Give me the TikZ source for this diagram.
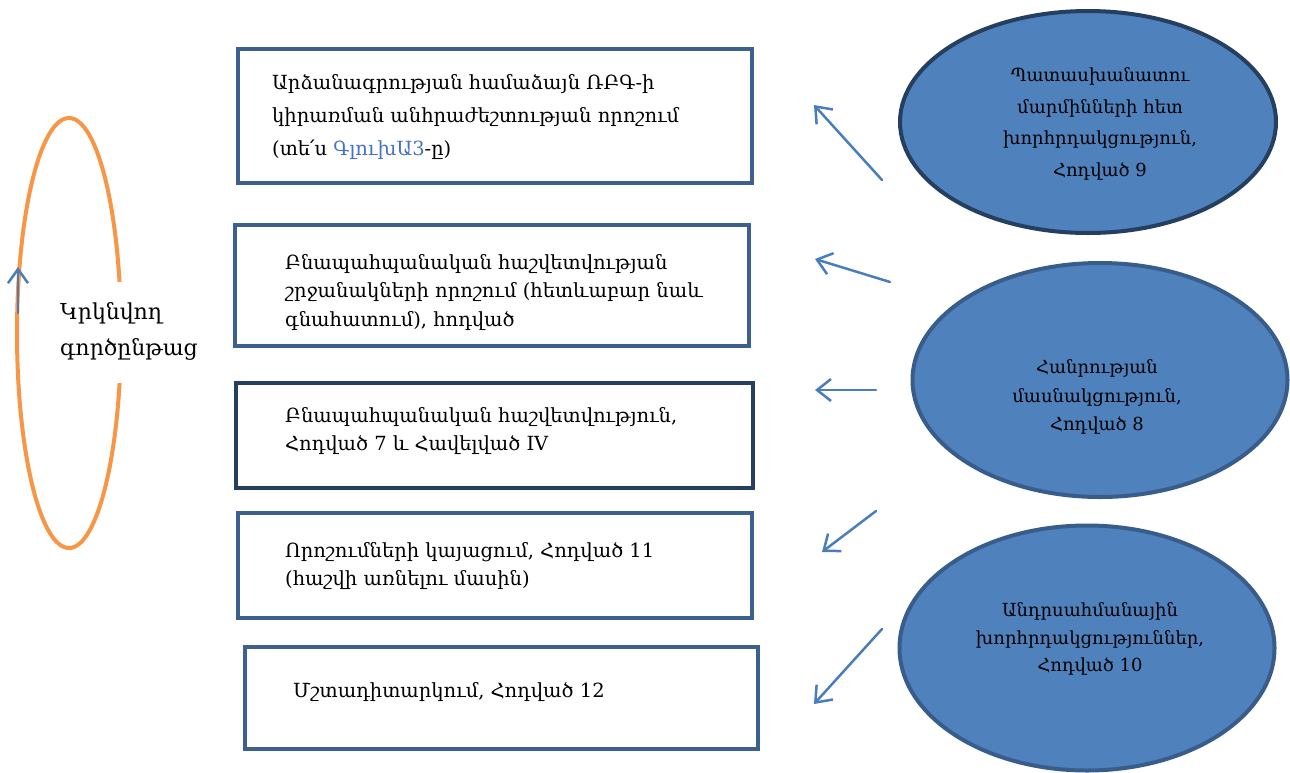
\documentclass[tikz,border=0pt]{standalone}
\usepackage{fontspec}
\setmainfont{DejaVu Serif}
\usetikzlibrary{arrows.meta,shapes.geometric}
\definecolor{boxline}{HTML}{3C6191}
\definecolor{boxdark}{HTML}{243F60}
\definecolor{ovalfill}{HTML}{4F81BD}
\definecolor{ovalline}{HTML}{385D8A}
\definecolor{arrowblue}{HTML}{4A7EBB}
\definecolor{loop}{HTML}{F79646}
\definecolor{linkblue}{HTML}{4472C4}
\tikzset{
  stagebox/.style={draw=boxline, line width=4pt, fill=white, rectangle, inner sep=0pt, anchor=north west},
  stagetext/.style={anchor=west, align=left, inner sep=0pt, font=\fontsize{19.5}{28.5}\selectfont},
  oval/.style={ellipse, draw=ovalline, line width=4pt, fill=ovalfill, inner sep=0pt},
  ovaltext/.style={align=center, inner sep=0pt, font=\fontsize{18}{28.5}\selectfont},
  feed/.style={draw=arrowblue, line width=2.5pt, line cap=round,
    -{Straight Barb[length=14pt, width=22pt, line width=2.5pt]}},
}
\begin{document}
\begin{tikzpicture}[x=1pt, y=-1pt]
\useasboundingbox (0,0) rectangle (1290,772);

% stage boxes
\node[stagebox, minimum width=514pt, minimum height=134pt] (b1) at (236,47) {};
\node[stagebox, minimum width=514pt, minimum height=121pt] (b2) at (233,223) {};
\node[stagebox, draw=boxdark, minimum width=517pt, minimum height=105pt] (b3) at (234,381) {};
\node[stagebox, minimum width=514pt, minimum height=105pt] (b4) at (236,511) {};
\node[stagebox, minimum width=513pt, minimum height=102pt] (b5) at (243,645) {};

\node[stagetext, font=\fontsize{19.5}{33}\selectfont] (t1) at (272,117)
  {Արձանագրության համաձայն ՌԲԳ-ի\\կիրառման անհրաժեշտության որոշում\\(տե՛ս \textcolor{linkblue}{ԳլուխԱ3}-ը)};
\node[stagetext] (t2) at (285,292)
  {Բնապահպանական հաշվետվության\\շրջանակների որոշում (հետևաբար նաև\\գնահատում), հոդված};
\node[stagetext, font=\fontsize{19.5}{28}\selectfont] (t3) at (285,431)
  {Բնապահպանական հաշվետվություն,\\Հոդված 7 և Հավելված IV};
\node[stagetext, font=\fontsize{19.5}{28}\selectfont] (t4) at (285,566)
  {Որոշումների կայացում, Հոդված 11\\(հաշվի առնելու մասին)};
\node[stagetext] (t5) at (293,692) {Մշտադիտարկում, Հոդված 12};

% consultation ovals
\node[oval, draw=boxdark, minimum width=376pt, minimum height=222pt] (e1) at (1088,122) {};
\node[ovaltext, font=\fontsize{18}{31.7}\selectfont] (et1) at (1100,124)
  {Պատասխանատու\\մարմինների հետ\\խորհրդակցություն,\\Հոդված 9};
\node[oval, minimum width=375pt, minimum height=234pt] (e2) at (1100,380) {};
\node[ovaltext] (et2) at (1097,397) {Հանրության\\մասնակցություն,\\Հոդված 8};
\node[oval, minimum width=375pt, minimum height=245pt] (e3) at (1087,648) {};
\node[ovaltext, font=\fontsize{18}{27.5}\selectfont] (et3) at (1090,639)
  {Անդրսահմանային\\խորհրդակցություններ,\\Հոդված 10};

% arrow ends
\coordinate (a1s) at (882,180); \coordinate (a1e) at (814,105);
\coordinate (a2s) at (890,282); \coordinate (a2e) at (815,259);
\coordinate (a3s) at (876,390); \coordinate (a3e) at (815,390);
\coordinate (a4s) at (876,511); \coordinate (a4e) at (822,552);
\coordinate (a5s) at (882,629); \coordinate (a5e) at (814,704);
\draw[feed] (a1s) -- (a1e);
\draw[feed] (a2s) -- (a2e);
\draw[feed] (a3s) -- (a3e);
\draw[feed] (a4s) -- (a4e);
\draw[feed] (a5s) -- (a5e);

% iterative process loop
\node[ellipse, draw=loop, line width=4pt, minimum width=104pt, minimum height=430pt, inner sep=0pt] (loopo) at (69,333) {};
\fill[white] (105,282) rectangle (130,383);
\coordinate (lp1) at (18,313);
\coordinate (lp2) at (18,267);
\draw[feed, -{Straight Barb[length=14pt, width=20pt, line width=2.5pt]}] (lp1) -- (lp2);
\node[anchor=west, align=left, inner sep=0pt, font=\fontsize{22}{36}\selectfont] (lt) at (60,331)
  {Կրկնվող\\գործընթաց};
\end{tikzpicture}
\end{document}
